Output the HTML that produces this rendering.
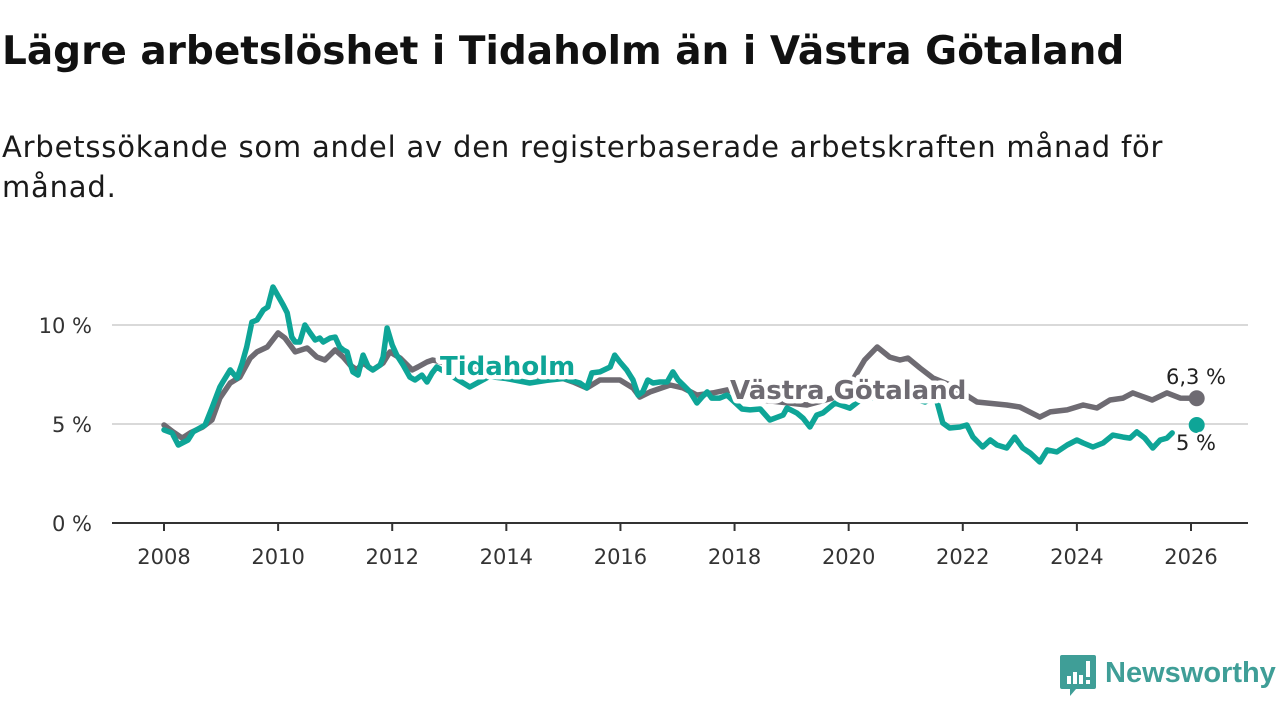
<!DOCTYPE html>
<html><head><meta charset="utf-8">
<style>
body{margin:0;width:1280px;height:720px;background:#fff;overflow:hidden;font-family:"DejaVu Sans",sans-serif;color:#111}
h1{position:absolute;left:2px;top:29px;margin:0;font-size:39px;font-weight:bold;letter-spacing:0px;white-space:nowrap}
.sub{position:absolute;left:2px;top:127px;margin:0;font-size:29px;line-height:40px;width:1190px;color:#1a1a1a;letter-spacing:0.8px}
svg{position:absolute;left:0;top:0}
</style></head><body>
<h1>Lägre arbetslöshet i Tidaholm än i Västra Götaland</h1>
<p class="sub">Arbetssökande som andel av den registerbaserade arbetskraften månad för månad.</p>
<svg id="chart" width="1280" height="720"></svg>
<script>
const xTicks=[2008,2010,2012,2014,2016,2018,2020,2022,2024,2026];
const yTicks=[0,5,10];
const yTickLabels=["0 %","5 %","10 %"];
const tidYears=[2008.0,2008.14,2008.25,2008.42,2008.51,2008.72,2008.84,2008.98,2009.03,2009.16,2009.28,2009.37,2009.45,2009.54,2009.63,2009.74,2009.82,2009.91,2010.09,2010.16,2010.24,2010.30,2010.38,2010.47,2010.56,2010.65,2010.73,2010.79,2010.91,2011.0,2011.08,2011.14,2011.21,2011.26,2011.31,2011.40,2011.49,2011.58,2011.66,2011.79,2011.84,2011.91,2012.0,2012.08,2012.19,2012.31,2012.40,2012.52,2012.61,2012.70,2012.78,2013.0,2013.36,2013.7,2014.0,2014.41,2014.7,2015.0,2015.29,2015.41,2015.50,2015.64,2015.82,2015.90,2015.99,2016.11,2016.22,2016.31,2016.39,2016.48,2016.57,2016.69,2016.82,2016.92,2017.01,2017.10,2017.22,2017.34,2017.43,2017.52,2017.60,2017.74,2017.87,2018.13,2018.27,2018.45,2018.62,2018.71,2018.85,2018.92,2019.09,2019.20,2019.32,2019.44,2019.55,2019.76,2020.02,2020.2,2020.6,2021.0,2021.34,2021.46,2021.55,2021.65,2021.77,2021.95,2022.07,2022.18,2022.35,2022.48,2022.60,2022.77,2022.91,2023.05,2023.18,2023.35,2023.48,2023.65,2023.83,2024.0,2024.11,2024.28,2024.46,2024.63,2024.81,2024.93,2025.05,2025.19,2025.33,2025.46,2025.58,2025.67];
const tidValues=[4.7,4.55,3.94,4.19,4.6,4.95,5.81,6.87,7.12,7.73,7.32,8.08,8.89,10.15,10.25,10.76,10.91,11.92,11.01,10.61,9.39,9.14,9.14,10.0,9.6,9.24,9.34,9.14,9.34,9.39,8.89,8.74,8.64,8.08,7.63,7.47,8.48,7.88,7.73,7.98,8.38,9.85,8.99,8.48,7.98,7.37,7.22,7.47,7.12,7.58,7.88,7.5,6.87,7.4,7.3,7.07,7.2,7.3,7.07,6.82,7.58,7.63,7.88,8.48,8.13,7.73,7.22,6.46,6.62,7.22,7.07,7.12,7.12,7.63,7.22,6.97,6.62,6.06,6.36,6.62,6.31,6.31,6.46,5.76,5.71,5.76,5.2,5.3,5.45,5.81,5.56,5.3,4.85,5.45,5.56,6.06,5.8,6.2,6.4,6.4,6.11,6.36,6.11,5.05,4.8,4.85,4.95,4.34,3.84,4.19,3.94,3.79,4.34,3.79,3.54,3.08,3.69,3.59,3.94,4.19,4.04,3.84,4.04,4.44,4.34,4.29,4.6,4.29,3.79,4.19,4.29,4.55];
const vgYears=[2008.0,2008.16,2008.32,2008.46,2008.68,2008.84,2008.98,2009.16,2009.33,2009.51,2009.63,2009.81,2010.0,2010.12,2010.30,2010.51,2010.68,2010.82,2011.0,2011.14,2011.26,2011.38,2011.49,2011.66,2011.84,2011.96,2012.14,2012.35,2012.45,2012.61,2012.71,2013.2,2014.0,2015.0,2015.17,2015.41,2015.64,2015.99,2016.22,2016.34,2016.52,2016.87,2017.10,2017.34,2017.62,2017.87,2018.5,2019.27,2019.7,2020.02,2020.28,2020.50,2020.72,2020.90,2021.04,2021.25,2021.48,2021.78,2022.25,2022.77,2023.0,2023.35,2023.53,2023.83,2024.11,2024.35,2024.58,2024.81,2024.98,2025.32,2025.58,2025.81,2026.10];
const vgValues=[4.95,4.6,4.29,4.55,4.85,5.2,6.31,7.07,7.37,8.33,8.64,8.89,9.6,9.34,8.64,8.84,8.38,8.23,8.74,8.38,7.98,7.73,8.08,7.73,8.08,8.64,8.33,7.73,7.88,8.13,8.23,7.9,7.6,7.3,7.12,6.82,7.22,7.22,6.82,6.36,6.62,6.97,6.82,6.46,6.57,6.72,6.2,5.96,6.3,6.97,8.23,8.89,8.38,8.23,8.33,7.83,7.32,6.97,6.11,5.96,5.86,5.35,5.61,5.71,5.96,5.81,6.21,6.31,6.57,6.21,6.57,6.31,6.3];
const tidLast=[2026.10,4.95];
const NS="http://www.w3.org/2000/svg";
const svg=document.getElementById('chart');
const X=t=>164+(t-2008)*(1191-164)/18;
const Y=v=>523-v*19.8;
function mk(tag,attrs,parent){const e=document.createElementNS(NS,tag);for(const k in attrs)e.setAttribute(k,attrs[k]);(parent||svg).appendChild(e);return e;}
yTicks.forEach((v,i)=>{
  if(v>0){const g=mk('line',{x1:112,x2:1248,y1:Y(v),y2:Y(v),stroke:'#d9d9d9','stroke-width':2});
  
  }
  const t=mk('text',{x:92,y:Y(v)+8,'text-anchor':'end','font-size':21,fill:'#333'});
  t.textContent=yTickLabels[i];
  
  
});
const ax=mk('line',{x1:112,x2:1248,y1:Y(0),y2:Y(0),stroke:'#333','stroke-width':2});


xTicks.forEach(yr=>{
  const tk=mk('line',{x1:X(yr),x2:X(yr),y1:Y(0),y2:Y(0)+8,stroke:'#333','stroke-width':2});
  
  
  const t=mk('text',{x:X(yr),y:564,'text-anchor':'middle','font-size':21,fill:'#333'});
  t.textContent=yr;
  
  
});
function path(xs,vs){return xs.map((t,i)=>(i?'L':'M')+X(t).toFixed(1)+','+Y(vs[i]).toFixed(1)).join(' ');}
const vg=mk('path',{d:path(vgYears,vgValues),fill:'none',stroke:'#6e6b72','stroke-width':5.5,'stroke-linejoin':'round','stroke-linecap':'round'});


const td=mk('path',{d:path(tidYears,tidValues),fill:'none',stroke:'#0ea597','stroke-width':5.5,'stroke-linejoin':'round','stroke-linecap':'round'});


const d1=mk('circle',{cx:X(vgYears[vgYears.length-1]),cy:Y(vgValues[vgValues.length-1]),r:8,fill:'#6e6b72'});


const d2=mk('circle',{cx:X(tidLast[0]),cy:Y(tidLast[1]),r:8,fill:'#0ea597'});


function lbl(txt,x,y,fill,name,bold,anchor){
  const t=mk('text',{x:x,y:y,'font-size':bold?26:21,'font-weight':bold?'bold':'normal',fill:fill,stroke:'#fff','stroke-width':bold?9:5,'paint-order':'stroke','stroke-linejoin':'round','text-anchor':anchor||'start'});
  t.textContent=txt;
  
  
}
lbl('Tidaholm',440,375,'#0ea597','tidaholm-label',true);
lbl('Västra Götaland',730,399,'#6e6b72','vastra-gotaland-label',true);
lbl('6,3 %',1196,384,'#222','vastra-gotaland-value',false,'middle');
lbl('5 %',1196,450,'#222','tidaholm-value',false,'middle');
</script>
<svg width="1280" height="720" style="pointer-events:none">
  <path d="M1062,655 h32 a2,2 0 0 1 2,2 v30 a2,2 0 0 1 -2,2 h-18 l-6,7 v-7 h-8 a2,2 0 0 1 -2,-2 v-30 a2,2 0 0 1 2,-2z" fill="#3f9e97"/>
  <rect x="1067" y="676" width="4" height="8" fill="#fff"/><rect x="1073" y="672" width="4" height="12" fill="#fff"/><rect x="1079" y="675" width="4" height="9" fill="#fff"/><rect x="1086" y="661" width="4" height="16" fill="#fff"/><rect x="1086" y="680" width="4" height="4" fill="#fff"/>
  <text x="1105" y="682" font-size="29" font-weight="bold" fill="#3f9e97" font-family="Liberation Sans, sans-serif">Newsworthy</text>
</svg>
</body></html>
